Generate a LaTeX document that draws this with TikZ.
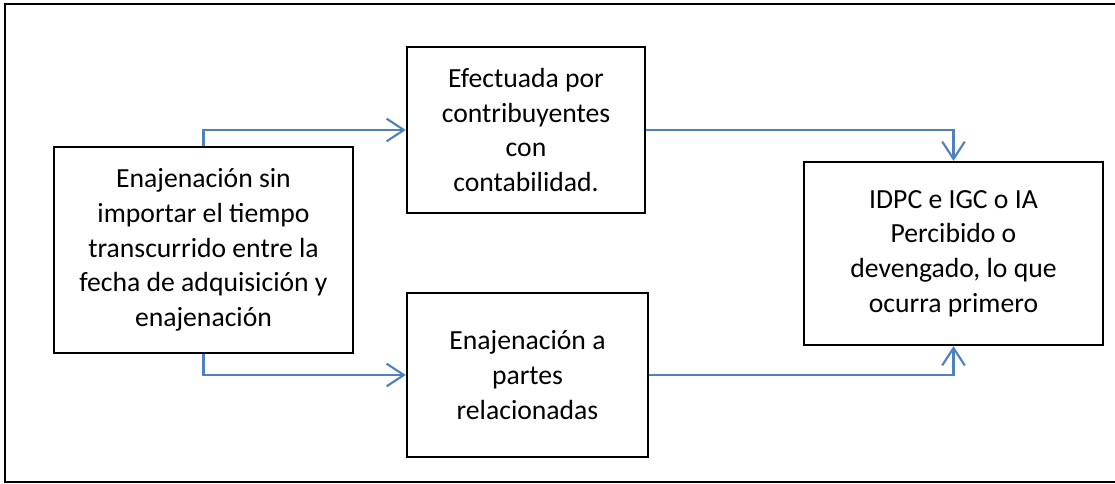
\documentclass[tikz,border=0pt]{standalone}
\usepackage{fontspec}
\setmainfont{Carlito}
\usetikzlibrary{arrows.meta}
\definecolor{linkblue}{HTML}{4F81BD}
\tikzset{
  box/.style={draw=black, line width=1.7pt, rectangle, align=center, inner sep=0pt,
    font=\fontsize{20.75pt}{26pt}\selectfont},
  link/.style={draw=linkblue, line width=1.6pt,
    -{Straight Barb[length=13pt,width=17pt,line width=1.6pt]}}
}
\begin{document}
\begin{tikzpicture}[x=0.75pt,y=-0.75pt]
\useasboundingbox (0,0) rectangle (1115,484);
\draw[line width=1.7pt] (1120,4) -- (5,4) -- (5,482) -- (1120,482);
\node[box, minimum width=299*0.75pt, minimum height=206*0.75pt] (A) at (203.5,250)
  {Enajenación sin\\importar el tiempo\\transcurrido entre la\\fecha de adquisición y\\enajenación};
\node[box, minimum width=238*0.75pt, minimum height=166*0.75pt] (B) at (526,130)
  {Efectuada por\\contribuyentes\\con\\contabilidad.};
\node[box, minimum width=241*0.75pt, minimum height=164*0.75pt] (C) at (527.5,375)
  {Enajenación a\\partes\\relacionadas};
\node[box, minimum width=299*0.75pt, minimum height=183*0.75pt] (D) at (953.5,253.5)
  {IDPC e IGC o IA\\Percibido o\\devengado, lo que\\ocurra primero};
\draw[link] (A.north) |- (B.west);
\draw[link] (A.south) |- (C.west);
\draw[link] (B.east) -| (D.north);
\draw[link] (C.east) -| (D.south);
\end{tikzpicture}
\end{document}
